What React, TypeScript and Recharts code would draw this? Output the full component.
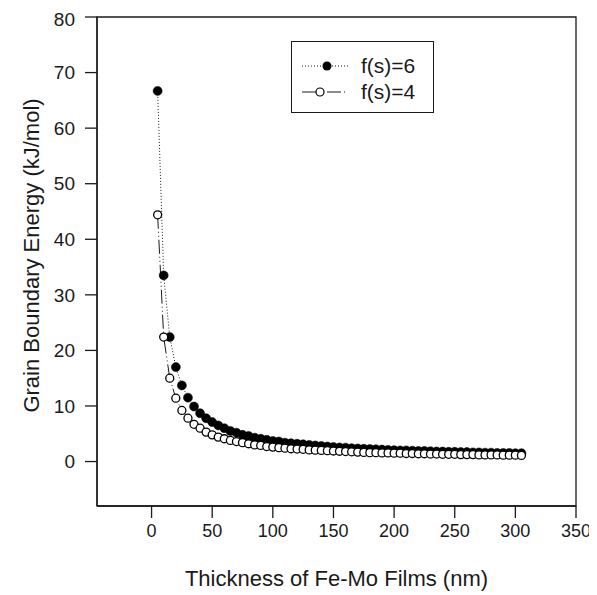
import { LineChart, Line, XAxis, YAxis, ReferenceArea } from "recharts";

// film thickness (nm), 5 to 305 in steps of 5
const thickness = [
  5, 10, 15, 20, 25, 30, 35, 40, 45, 50, 55, 60, 65, 70, 75, 80, 85, 90, 95, 100,
  105, 110, 115, 120, 125, 130, 135, 140, 145, 150, 155, 160, 165, 170, 175, 180,
  185, 190, 195, 200, 205, 210, 215, 220, 225, 230, 235, 240, 245, 250, 255, 260,
  265, 270, 275, 280, 285, 290, 295, 300, 305,
];

// f(s)=6, filled circles
const energyFs6 = [
  66.7, 33.5, 22.4, 17.0, 13.7, 11.5, 9.9, 8.7, 7.8, 7.1, 6.5, 6.0, 5.5, 5.2, 4.8, 4.6, 4.3, 4.1, 3.9, 3.7,
  3.6, 3.4, 3.3, 3.2, 3.1, 3.0, 2.9, 2.8, 2.7, 2.6, 2.55, 2.5, 2.4, 2.35, 2.3, 2.25,
  2.2, 2.15, 2.1, 2.05, 2.0, 2.0, 1.95, 1.9, 1.9, 1.85, 1.8, 1.8, 1.75, 1.75, 1.7, 1.7,
  1.65, 1.65, 1.6, 1.6, 1.55, 1.55, 1.55, 1.5, 1.5,
];

// f(s)=4, open circles
const energyFs4 = [
  44.4, 22.4, 15.0, 11.4, 9.2, 7.8, 6.7, 6.0, 5.3, 4.8, 4.4, 4.1, 3.8, 3.6, 3.4, 3.2, 3.0, 2.9, 2.7, 2.6,
  2.5, 2.4, 2.3, 2.25, 2.2, 2.1, 2.05, 2.0, 1.95, 1.9, 1.85, 1.8, 1.75, 1.7, 1.65, 1.6,
  1.6, 1.55, 1.55, 1.5, 1.5, 1.45, 1.45, 1.4, 1.4, 1.35, 1.35, 1.3, 1.3, 1.3, 1.25, 1.25,
  1.25, 1.2, 1.2, 1.2, 1.2, 1.15, 1.15, 1.15, 1.1,
];

const xTicks = [0, 50, 100, 150, 200, 250, 300, 350];
const yTicks = [0, 10, 20, 30, 40, 50, 60, 70, 80];

const data = thickness.map((t, i) => ({ t, fs6: energyFs6[i], fs4: energyFs4[i] }));

const FONT = "'Liberation Sans', Arial, Helvetica, sans-serif";
const INK = "#1a1a1a";

const Legend = () => (
  <div style={{ position: "absolute", left: 283, top: 33 }}>
    <svg width={143} height={72} style={{ display: "block", fontFamily: FONT }}>
      <rect x={0.5} y={0.5} width={142} height={71} fill="#fff" stroke={INK} strokeWidth={1} />
      <line x1={11} y1={25} x2={57} y2={25} stroke={INK} strokeWidth={1} strokeDasharray="1 2" />
      <circle cx={36} cy={25} r={4.5} fill="#000" />
      <text x={70} y={32} fontSize={21} fill={INK}>f(s)=6</text>
      <line x1={11} y1={51} x2={57} y2={51} stroke={INK} strokeWidth={1} strokeDasharray="14 3 1 3 1 3" />
      <circle cx={29} cy={51} r={4} fill="#fff" stroke="#000" strokeWidth={1.2} />
      <text x={70} y={58} fontSize={21} fill={INK}>f(s)=4</text>
    </svg>
  </div>
);

export default function App() {
  return (
    <div style={{ position: "relative", width: 589, height: 587, fontFamily: FONT }}>
      <style>{`html, body { overflow: hidden; } .recharts-surface { overflow: visible; }`}</style>
      <LineChart
        width={589}
        height={587}
        data={data}
        margin={{ top: 9, right: 21, bottom: 29, left: 29 }}
        style={{ overflow: "visible" }}
      >
        <XAxis
          dataKey="t"
          type="number"
          domain={[-45, 350]}
          ticks={xTicks}
          allowDataOverflow
          height={60}
          tickSize={12}
          tickMargin={6}
          stroke={INK}
          strokeWidth={1.3}
          tick={{ fill: INK, fontSize: 18, fontFamily: FONT }}
          label={{
            content: ({ viewBox }: any) => (
              <text
                x={viewBox.x + viewBox.width / 2}
                y={578}
                textAnchor="middle"
                fontSize={22}
                fill={INK}
                fontFamily={FONT}
              >
                Thickness of Fe-Mo Films (nm)
              </text>
            ),
          }}
        />
        <YAxis
          type="number"
          domain={[-8, 80]}
          ticks={yTicks}
          allowDataOverflow
          width={60}
          tickSize={12}
          tickMargin={10}
          stroke={INK}
          strokeWidth={1.3}
          tick={{ fill: INK, fontSize: 19, fontFamily: FONT }}
          label={{
            content: ({ viewBox }: any) => {
              const cx = 31;
              const cy = viewBox.y + viewBox.height / 2 - 6;
              return (
                <text
                  x={cx}
                  y={cy}
                  transform={`rotate(-90 ${cx} ${cy})`}
                  textAnchor="middle"
                  fontSize={22}
                  fill={INK}
                  fontFamily={FONT}
                >
                  Grain Boundary Energy (kJ/mol)
                </text>
              );
            },
          }}
        />
        <ReferenceArea x1={-45} x2={350} y1={-8} y2={80} fill="none" stroke={INK} strokeWidth={1.3} />
        <Line
          dataKey="fs6"
          isAnimationActive={false}
          stroke={INK}
          strokeWidth={1}
          strokeDasharray="1 2"
          dot={{ r: 4.5, fill: "#000", stroke: "#000", strokeWidth: 0.5, strokeDasharray: "none" }}
          activeDot={false}
        />
        <Line
          dataKey="fs4"
          isAnimationActive={false}
          stroke={INK}
          strokeWidth={1}
          strokeDasharray="14 3 1 3 1 3"
          dot={{ r: 4, fill: "#fff", stroke: "#000", strokeWidth: 1.3, strokeDasharray: "none" }}
          activeDot={false}
        />
      </LineChart>
      <Legend />
    </div>
  );
}
